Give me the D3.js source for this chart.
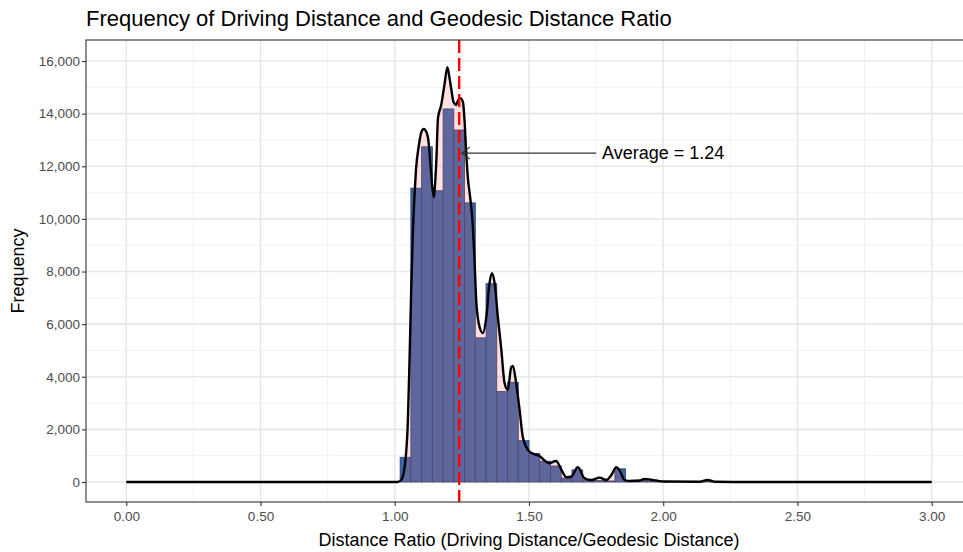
<!DOCTYPE html>
<html>
<head>
<meta charset="utf-8">
<script src="https://cdn.jsdelivr.net/npm/d3@7"></script>
<style>
  body { margin: 0; background: #fff; }
  text { font-family: "Liberation Sans", Arial, sans-serif; }
</style>
</head>
<body>
<div id="chart"></div>
<script>
"use strict";

/* global d3 */

// histogram bins (width 0.04)
const binCenters = [1.04, 1.08, 1.12, 1.16, 1.20, 1.24, 1.28, 1.32, 1.36, 1.40,
  1.44, 1.48, 1.52, 1.56, 1.60, 1.64, 1.68, 1.72, 1.76, 1.80,
  1.84, 1.88, 1.92, 1.96, 2.00, 2.16, 2.20];
const binCounts = [940, 11170, 12740, 11070, 14180, 13380, 10610, 5480, 7540, 3440,
  3790, 1570, 1080, 790, 610, 150, 460, 80, 60, 40,
  500, 30, 60, 40, 15, 40, 20];
const binWidth = 0.04;

// density curve scaled to counts
const densityX = [0, 1.010, 1.024, 1.037, 1.049, 1.055, 1.061, 1.067, 1.074, 1.079,
  1.090, 1.099, 1.108, 1.118, 1.126, 1.133, 1.141, 1.146, 1.150, 1.155,
  1.161, 1.173, 1.185, 1.196, 1.204, 1.210, 1.219, 1.229, 1.236, 1.244,
  1.254, 1.260, 1.266, 1.273, 1.279, 1.291, 1.297, 1.304, 1.316, 1.328,
  1.341, 1.353, 1.362, 1.372, 1.384, 1.397, 1.409, 1.421, 1.434, 1.440,
  1.452, 1.465, 1.477, 1.496, 1.514, 1.539, 1.564, 1.577, 1.588, 1.601,
  1.620, 1.639, 1.657, 1.682, 1.707, 1.732, 1.763, 1.788, 1.807, 1.825,
  1.837, 1.856, 1.874, 1.912, 1.930, 1.949, 1.974, 2.005, 2.135, 2.165,
  2.195, 2.285, 3.0];
const densityY = [0, 0, 76, 580, 2360, 4640, 7180, 9320, 10970, 11860,
  12810, 13300, 13420, 13300, 12920, 12050, 11100, 10830, 11290, 12240,
  13830, 14330, 15090, 15770, 15350, 14970, 14440, 14330, 14520, 14590,
  14440, 13720, 12540, 11480, 10980, 9690, 8440, 6800, 5890, 5660,
  6270, 7560, 7940, 7560, 6270, 5020, 3760, 3500, 4370, 4410,
  3760, 2740, 1710, 1220, 1080, 990, 770, 710, 760, 800,
  480, 180, 200, 560, 140, 76, 165, 76, 270, 560,
  450, 76, 38, 55, 114, 95, 55, 19, 8, 80,
  8, 0, 0];

const xTicks = [0, 0.5, 1, 1.5, 2, 2.5, 3];
const xMinor = [0.25, 0.75, 1.25, 1.75, 2.25, 2.75];
const yTicks = [0, 2000, 4000, 6000, 8000, 10000, 12000, 14000, 16000];
const yMinor = [1000, 3000, 5000, 7000, 9000, 11000, 13000, 15000];

const meanRatio = 1.24;
const arrowFrom = [1.75, 12500];
const arrowTo = [1.25, 12500];
const noteAt = [2.0, 12500];
const noteText = 'Average = 1.24';

const titleText = 'Frequency of Driving Distance and Geodesic Distance Ratio';
const xTitle = 'Distance Ratio (Driving Distance/Geodesic Distance)';
const yTitle = 'Frequency';

let width = 963;
let height = 552;
let panel = { left: 86, right: 972, top: 40, bottom: 502 };

let x = d3.scaleLinear()
  .domain([-0.15, 3.15])
  .range([panel.left, panel.right]);

let y = d3.scaleLinear()
  .domain([-760, 16800])
  .range([panel.bottom, panel.top]);

let svg = d3.select('#chart')
  .append('svg')
  .attr('width', width)
  .attr('height', height);

let plot = svg.append('g');

plot.append('defs').append('clipPath')
  .attr('id', 'clip')
  .append('rect')
  .attr('x', panel.left)
  .attr('y', panel.top)
  .attr('width', panel.right - panel.left)
  .attr('height', panel.bottom - panel.top);

let body = plot.append('g').attr('clip-path', 'url(#clip)');

// grid
body.selectAll('.xminor').data(xMinor).join('line')
  .attr('x1', d => x(d)).attr('x2', d => x(d))
  .attr('y1', panel.top).attr('y2', panel.bottom)
  .attr('stroke', '#efefef').attr('stroke-width', 0.9);
body.selectAll('.yminor').data(yMinor).join('line')
  .attr('y1', d => y(d)).attr('y2', d => y(d))
  .attr('x1', panel.left).attr('x2', panel.right)
  .attr('stroke', '#efefef').attr('stroke-width', 0.9);
body.selectAll('.xmajor').data(xTicks).join('line')
  .attr('x1', d => x(d)).attr('x2', d => x(d))
  .attr('y1', panel.top).attr('y2', panel.bottom)
  .attr('stroke', '#e8e8e8').attr('stroke-width', 1.6);
body.selectAll('.ymajor').data(yTicks).join('line')
  .attr('y1', d => y(d)).attr('y2', d => y(d))
  .attr('x1', panel.left).attr('x2', panel.right)
  .attr('stroke', '#e8e8e8').attr('stroke-width', 1.6);

// histogram
body.selectAll('.bar')
  .data(binCenters.map((c, i) => ({ c: c, n: binCounts[i] })))
  .join('rect')
  .attr('x', d => x(d.c - binWidth / 2))
  .attr('width', d => x(d.c + binWidth / 2) - x(d.c - binWidth / 2))
  .attr('y', d => y(d.n))
  .attr('height', d => y(0) - y(d.n))
  .attr('fill', '#3568ad')
  .attr('stroke', '#2f3a66')
  .attr('stroke-width', 0.8);

// density
let dens = densityX.map((v, i) => ({ x: v, y: densityY[i] }));

let area = d3.area()
  .x(d => x(d.x))
  .y0(y(0))
  .y1(d => y(d.y))
  .curve(d3.curveMonotoneX);

let line = d3.line()
  .x(d => x(d.x))
  .y(d => y(d.y))
  .curve(d3.curveMonotoneX);

body.append('path')
  .datum(dens)
  .attr('d', area)
  .attr('fill', '#ff6666')
  .attr('fill-opacity', 0.2);

body.append('path')
  .datum(dens)
  .attr('d', line)
  .attr('fill', 'none')
  .attr('stroke', '#000')
  .attr('stroke-width', 2.4)
  .attr('stroke-linejoin', 'round');

// mean line
body.append('line')
  .attr('x1', x(meanRatio)).attr('x2', x(meanRatio))
  .attr('y1', panel.top).attr('y2', panel.bottom)
  .attr('stroke', '#ff0000')
  .attr('stroke-width', 2.4)
  .attr('stroke-dasharray', '13,5');

// annotation arrow
let ax0 = x(arrowFrom[0]), ax1 = x(arrowTo[0]), ay = y(arrowTo[1]);
body.append('line')
  .attr('x1', ax0).attr('x2', ax1)
  .attr('y1', ay).attr('y2', ay)
  .attr('stroke', '#333').attr('stroke-width', 1.2);
body.append('path')
  .attr('d', 'M' + (ax1 + 8) + ',' + (ay - 6) + 'L' + ax1 + ',' + ay + 'L' + (ax1 + 8) + ',' + (ay + 6))
  .attr('fill', 'none')
  .attr('stroke', '#333').attr('stroke-width', 1.2);

body.append('text')
  .attr('x', x(noteAt[0]))
  .attr('y', y(noteAt[1]))
  .attr('dy', '0.35em')
  .attr('text-anchor', 'middle')
  .attr('font-size', '18px')
  .attr('fill', '#000')
  .text(noteText);

// panel border
plot.append('rect')
  .attr('x', panel.left).attr('y', panel.top)
  .attr('width', panel.right - panel.left)
  .attr('height', panel.bottom - panel.top)
  .attr('fill', 'none')
  .attr('stroke', '#333')
  .attr('stroke-width', 1.1);

// axes
let xAxis = plot.append('g')
  .attr('transform', 'translate(0,' + panel.bottom + ')')
  .call(d3.axisBottom(x).tickValues(xTicks).tickFormat(d3.format('.2f')).tickSize(4).tickPadding(5));
let yAxis = plot.append('g')
  .attr('transform', 'translate(' + panel.left + ',0)')
  .call(d3.axisLeft(y).tickValues(yTicks).tickFormat(d3.format(',')).tickSize(4).tickPadding(2));

[xAxis, yAxis].forEach(a => {
  a.select('.domain').remove();
  a.selectAll('.tick line').attr('stroke', '#333').attr('stroke-width', 1.1);
  a.selectAll('.tick text')
    .attr('fill', '#4d4d4d')
    .attr('font-size', '13.5px')
    .attr('font-family', '"Liberation Sans", Arial, sans-serif');
});

// titles
svg.append('text')
  .attr('x', panel.left)
  .attr('y', 26)
  .attr('font-size', '22px')
  .attr('fill', '#000')
  .text(titleText);

svg.append('text')
  .attr('x', (panel.left + panel.right) / 2)
  .attr('y', 546)
  .attr('text-anchor', 'middle')
  .attr('font-size', '18px')
  .attr('fill', '#000')
  .text(xTitle);

svg.append('text')
  .attr('transform', 'translate(24,' + ((panel.top + panel.bottom) / 2) + ') rotate(-90)')
  .attr('text-anchor', 'middle')
  .attr('font-size', '18px')
  .attr('fill', '#000')
  .text(yTitle);
</script>
</body>
</html>
